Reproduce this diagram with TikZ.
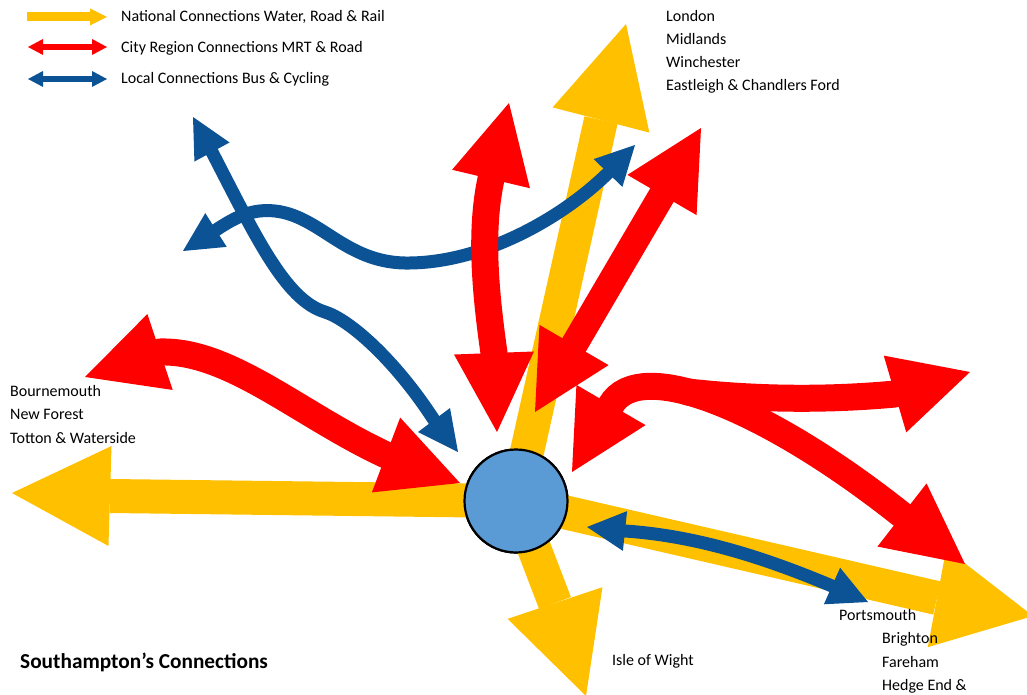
\documentclass[tikz,border=0pt]{standalone}
\usepackage{fontspec}
\setmainfont{Carlito}
\usetikzlibrary{calc}
\definecolor{natyellow}{HTML}{FFC000}
\definecolor{cityred}{HTML}{FF0000}
\definecolor{localblue}{RGB}{11,83,148}
\definecolor{hubblue}{HTML}{5B9BD5}
\def\arrowhead[#1](#2)(#3)(#4){\fill[#1] (#3) -- ($(#2)!#4!90:(#3)$) -- ($(#2)!#4!-90:(#3)$) -- cycle;}
\tikzset{
	national/.style={draw=natyellow, line width=34pt},
	city/.style={draw=cityred, line width=27pt, line cap=round},
	local/.style={draw=localblue, line width=13pt, line cap=round},
	place/.style={anchor=base west, inner sep=0pt, font=\fontsize{16}{19}\selectfont},
}
\begin{document}
\begin{tikzpicture}[x=1pt, y=-1pt]
				\useasboundingbox (0,0) rectangle (1027,695);
				\node[circle, draw=black, line width=2.2pt, fill=hubblue, minimum size=103pt, inner sep=0pt] (hub) at (516,501) {};
				
				\draw[national] (hub.center) -- (110,496);
				\arrowhead[natyellow](110,496)(12,493)(50pt)
				\draw[national] (hub.center) -- (601,120);
				\arrowhead[natyellow](601,120)(626,24)(50pt)
				\draw[national] (hub.center) -- (555,603);
				\arrowhead[natyellow](555,603)(586,696)(50pt)
				\draw[national] (hub.center) -- (937,598);
				\arrowhead[natyellow](937,598)(1033,616)(50pt)
				
				\draw[local] (212,152) .. controls (255,235) and (285,300) .. (325,312) .. controls (350,320) and (395,360) .. (434,420);
				\arrowhead[localblue](212,152)(193,117)(20pt)
				\arrowhead[localblue](434,420)(458,452)(20pt)
				\draw[local] (216,230) .. controls (240,214) and (255,209) .. (275,211) .. controls (320,216) and (345,262) .. (405,263) .. controls (480,264) and (560,220) .. (608,173);
				\arrowhead[localblue](216,230)(183,251)(20pt)
				\arrowhead[localblue](608,173)(635,145)(20pt)
				\draw[local] (625,531) .. controls (700,536) and (770,560) .. (832,586);
				\arrowhead[localblue](625,531)(587,527)(20pt)
				\arrowhead[localblue](832,586)(868,602)(20pt)
				
				\draw[city] (494,353) .. controls (485,290) and (480,230) .. (491,179);
				\arrowhead[cityred](491,179)(509,103)(40pt)
				\arrowhead[cityred](494,353)(497,432)(40pt)
				\draw[city] (574,345) -- (662,195);
				\arrowhead[cityred](662,195)(701,128)(40pt)
				\arrowhead[cityred](574,345)(535,412)(40pt)
				\draw[city] (386,455) .. controls (300,415) and (230,350) .. (160,352);
				\arrowhead[cityred](160,352)(85,377)(40pt)
				\arrowhead[cityred](386,455)(460,483)(40pt)
				\draw[city] (611,405) .. controls (640,355) and (770,410) .. (902,515);
				\draw[city] (688,392) .. controls (760,400) and (830,400) .. (895,394);
				\arrowhead[cityred](611,405)(572,472)(40pt)
				\arrowhead[cityred](902,515)(965,564)(40pt)
				\arrowhead[cityred](895,394)(970,372)(40pt)
				
				\node[circle, draw=black, line width=2.2pt, fill=hubblue, minimum size=103pt, inner sep=0pt] at (hub) {};
				
				\draw[draw=natyellow, line width=9pt] (27,17) -- (91,17);
				\arrowhead[natyellow](90,17)(107,17)(8.5pt)
				\draw[draw=cityred, line width=6pt] (42,47) -- (93,47);
				\arrowhead[cityred](43,47)(28,47)(8pt)
				\arrowhead[cityred](92,47)(107,47)(8pt)
				\draw[draw=localblue, line width=6pt] (42,79) -- (93,79);
				\arrowhead[localblue](43,79)(28,79)(8pt)
				\arrowhead[localblue](92,79)(107,79)(8pt)
				
				\node[place] (key-national) at (121,22) {National Connections Water, Road \& Rail};
				\node[place] (key-city) at (121,53) {City Region Connections MRT \& Road};
				\node[place] (key-local) at (121,84) {Local Connections Bus \& Cycling};
				
				\node[place] (north-1) at (666,22) {London};
				\node[place] (north-2) at (666,45) {Midlands};
				\node[place] (north-3) at (666,68) {Winchester};
				\node[place] (north-4) at (666,91) {Eastleigh \& Chandlers Ford};
				
				\node[place] (west-1) at (10,396) {Bournemouth};
				\node[place] (west-2) at (10,419) {New Forest};
				\node[place] (west-3) at (10,443) {Totton \& Waterside};
				
				\node[place] (east-1) at (839,620) {Portsmouth};
				\node[place] (east-2) at (882,643) {Brighton};
				\node[place] (east-3) at (882,667) {Fareham};
				\node[place] (east-4) at (882,690) {Hedge End \&};
				
				\node[place] (south-1) at (612,665) {Isle of Wight};
				
				\node[place, font=\fontsize{21.3}{25}\selectfont\bfseries] (title) at (20,668) {Southampton’s Connections};
			\end{tikzpicture}
\end{document}
